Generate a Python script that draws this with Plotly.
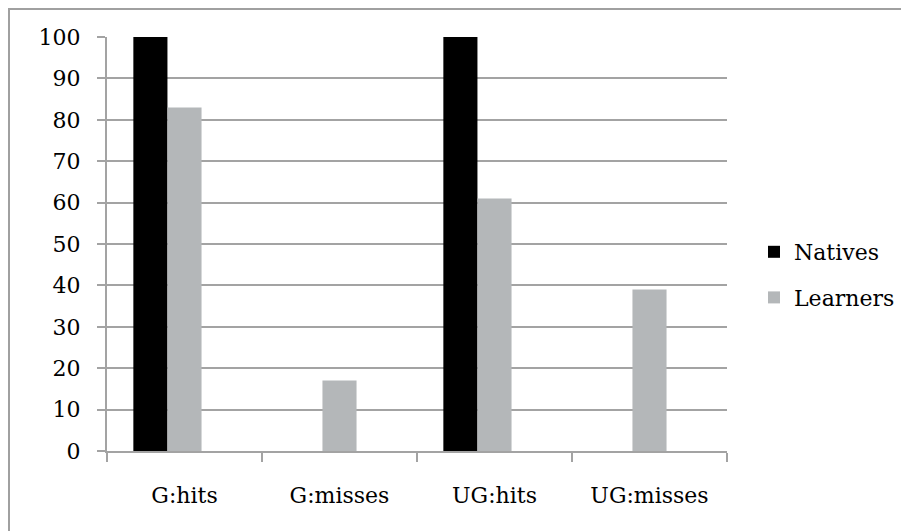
import plotly.graph_objects as go

categories = ["G:hits", "G:misses", "UG:hits", "UG:misses"]
natives = [100, 0, 100, 0]
learners = [83, 17, 61, 39]
y_ticks = list(range(0, 101, 10))

FONT = "DejaVu Serif"
GRID = "#a3a3a3"

fig = go.Figure()
fig.add_trace(go.Bar(
    x=categories, y=natives, name="Natives",
    marker=dict(color="#000000", line=dict(width=0)),
    width=0.22, offset=-0.33, legendgroup="a",
))
fig.add_trace(go.Bar(
    x=categories, y=learners, name="Learners",
    marker=dict(color="#b4b7b9", line=dict(width=0)),
    width=0.22, offset=-0.11, legendgroup="b",
))

# page body adds an 8px offset; positions below compensate
OFF = 8
L, R, T, B = 107 - OFF, 909 - 727 + OFF, 37 - OFF, 531 - 451 + OFF
pw, ph = 909 - L - R, 531 - T - B

fig.update_layout(
    width=909, height=531,
    margin=dict(l=L, r=R, t=T, b=B, pad=0),
    paper_bgcolor="white", plot_bgcolor="white",
    barmode="overlay",
    font=dict(family=FONT, size=22, color="#000000"),
    showlegend=True,
    legend=dict(
        x=(754 - OFF - L) / pw, y=(451 - 231) / ph, xanchor="left", yanchor="top",
        font=dict(family=FONT, size=22, color="#000000"), tracegroupgap=14,
        itemwidth=30, bgcolor="rgba(0,0,0,0)",
    ),
    xaxis=dict(
        type="category", tickson="boundaries", ticks="outside", ticklen=9,
        tickcolor=GRID, tickwidth=2, showline=True, linecolor=GRID, linewidth=2,
        showgrid=False, ticklabelstandoff=24, automargin=False,
        tickfont=dict(family=FONT, size=22, color="#000000"),
    ),
    yaxis=dict(
        range=[0, 100], tickvals=y_ticks, ticks="outside", ticklen=8,
        tickcolor=GRID, tickwidth=2, showline=True, linecolor=GRID, linewidth=2,
        showgrid=True, gridcolor=GRID, gridwidth=2, zeroline=False,
        ticklabelstandoff=12, automargin=False,
        tickfont=dict(family=FONT, size=22, color="#000000"),
    ),
    shapes=[dict(
        type="rect", xref="paper", yref="paper",
        x0=(9 - OFF - L) / pw, x1=2.0, y0=-1.0, y1=(451 - 9) / ph,
        line=dict(color="#a0a0a0", width=2), fillcolor="rgba(0,0,0,0)", layer="below",
    )],
)

fig.write_html("out.html")
